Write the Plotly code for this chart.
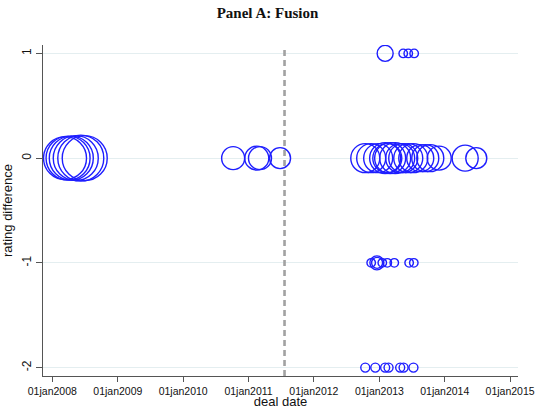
import plotly.graph_objects as go

# ---- data ----
deal_dates = [
    # 2008 cluster (diff 0)
    "2008-03-12", "2008-03-29", "2008-04-16", "2008-05-11", "2008-06-08", "2008-06-30",
    # 2010-2011 cluster (diff 0)
    "2010-10-07", "2011-02-16", "2011-03-06", "2011-06-26",
    # 2012-2014 cluster (diff 0)
    "2012-10-14", "2012-11-16", "2012-12-25", "2013-02-02", "2013-02-14", "2013-03-02",
    "2013-03-30", "2013-04-27", "2013-05-14", "2013-06-11", "2013-07-09", "2013-08-17",
    "2013-09-14", "2013-10-12", "2013-12-01", "2014-04-25", "2014-06-26",
    # diff +1
    "2013-02-02", "2013-05-14", "2013-06-11", "2013-07-14",
    # diff -1
    "2012-11-16", "2012-12-18", "2012-12-19", "2013-01-17", "2013-02-14", "2013-03-25",
    "2013-06-16", "2013-07-12",
    # diff -2
    "2012-10-14", "2012-12-09", "2013-02-02", "2013-02-21", "2013-04-27", "2013-05-16",
    "2013-07-10",
]
rating_diff = (
    [0] * 6 + [0] * 4 + [0] * 17 + [1] * 4 + [-1] * 8 + [-2] * 7
)
deal_weight = [
    43, 44, 44, 45, 46, 45,
    23, 24, 23, 21,
    29, 29, 29, 31, 29, 31, 31, 29, 29, 29, 29, 27, 27, 27, 24, 26, 21,
    16, 8.5, 8.5, 8.5,
    8.5, 14, 11, 8.5, 8.5, 8.5, 8.5, 8.5,
    9, 9, 9, 9, 9, 9, 9,
]
event_date = "2011-07-21"

tick_dates = ["2008-01-01", "2009-01-01", "2010-01-01", "2011-01-01",
              "2012-01-01", "2013-01-01", "2014-01-01", "2015-01-01"]
tick_labels = ["01jan2008", "01jan2009", "01jan2010", "01jan2011",
               "01jan2012", "01jan2013", "01jan2014", "01jan2015"]
y_ticks = [1, 0, -1, -2]

x_range = ["2007-11-10", "2015-02-14"]
y_range = [-2.08, 1.08]

fig = go.Figure()
fig.add_trace(go.Scatter(
    x=deal_dates, y=rating_diff, mode="markers",
    marker=dict(symbol="circle-open", size=deal_weight, sizemode="diameter",
                color="rgb(30,30,255)", opacity=1, line=dict(width=1.4)),
    showlegend=False, hoverinfo="x+y",
))

fig.add_shape(type="line", xref="x", yref="y",
              x0=event_date, x1=event_date, y0=y_range[0], y1=1.055,
              line=dict(color="#a2a2a2", width=2.6, dash="6px,4px"))

axis_font = dict(family="Liberation Sans, Arial, sans-serif", size=10.5, color="#111")

fig.update_layout(
    width=535, height=409,
    margin=dict(l=43, r=17, t=45, b=33),
    paper_bgcolor="white", plot_bgcolor="white",
    title=dict(text="<b>Panel A: Fusion</b>", x=0.5, xanchor="center",
               y=1 - 13 / 409, yanchor="middle",
               font=dict(family="Liberation Serif, serif", size=15, color="#111")),
    xaxis=dict(
        range=x_range, type="date", automargin=False,
        tickvals=tick_dates, ticktext=tick_labels, tickfont=axis_font,
        ticks="outside", ticklen=5, tickcolor="#555", tickwidth=1,
        showline=True, linecolor="#555", linewidth=1,
        showgrid=False, zeroline=False,
        title=dict(text="deal date", standoff=1,
                   font=dict(family="Liberation Sans, Arial, sans-serif", size=13, color="#111")),
    ),
    yaxis=dict(
        range=y_range, tickvals=y_ticks, ticktext=[str(v) for v in y_ticks],
        automargin=False,
        tickangle=-90, tickfont=dict(family="Liberation Sans, Arial, sans-serif", size=12, color="#111"),
        ticks="outside", ticklen=6, tickcolor="#555", tickwidth=1,
        showline=True, linecolor="#555", linewidth=1,
        showgrid=True, gridcolor="#e4eef0", gridwidth=1, zeroline=False,
        title=dict(text="rating difference", standoff=6,
                   font=dict(family="Liberation Sans, Arial, sans-serif", size=13, color="#111")),
    ),
)

fig.write_html("out.html", config={"displayModeBar": False},
               post_script="document.body.style.margin='0';")
